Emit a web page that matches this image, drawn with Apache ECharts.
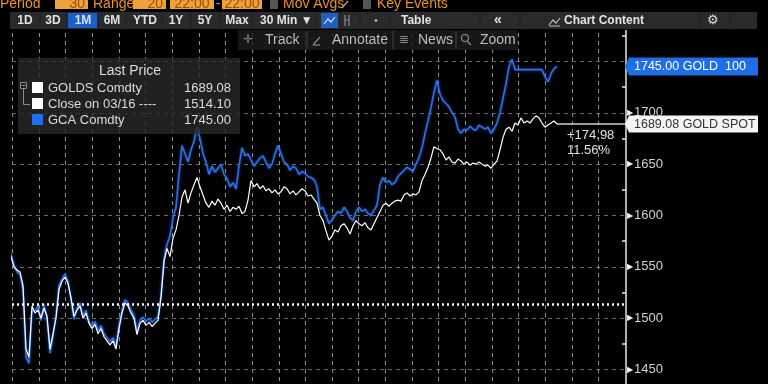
<!DOCTYPE html>
<html><head><meta charset="utf-8">
<script src="https://cdn.jsdelivr.net/npm/echarts@6/dist/echarts.min.js"></script>
<style>html,body{margin:0;padding:0;background:#000;}#c{width:768px;height:384px;}</style>
</head><body><div id="c"></div>
<script>
// GOLDS Comdty (spot, white) — 30-min bars
const goldSpot = [
1570,1560,1550,1547,1545,1532,1470,1462,1512,1505,1508,1500,1510,1502,1470,1485,1500,1528,1536,1540,1534,1520,1502,1508,1512,1500,1505,1495,1490,1494,1485,1490,1482,1478,1474,1478,1470,1490,1505,1515,1512,1505,1500,1484,1495,1498,1493,1496,1492,1495,1498,
1520,1555,1568,1560,1578,1586,1600,1618,1625,1612,1622,1630,1637,1628,1620,1612,1608,1614,1610,1616,1612,1606,1610,1604,1608,1606,1609,1602,1604,1615,1634,1628,1631,1626,1629,1624,1626,1622,1625,1621,1623,1628,1626,1621,1624,1620,1623,1626,1624,1619,1620,1616,1612,1600,
1595,1585,1576,1580,1586,1584,1590,1592,1588,1582,1590,1595,1592,1590,1593,1588,1586,1592,1598,1604,1610,1612,1609,1612,1614,1615,1614,1620,1622,1619,1621,1620,1623,1634,1640,1647,1656,1667,1665,1664,
1660,1654,1657,1652,1651,1655,1653,1650,1652,1649,1651,1650,1652,1650,1648,1649,1646,1650,1653,1664,1676,1684,1686,1682,1690,1688,1695,1690,1692,1690,1694,1697,1695,1690,1686,1688,1690,1692,1689.08
];
// GCA Comdty (front future, blue); null = no trading
const goldFut = [
1574,1562,1552,1545,1543,1528,1462,1456,1508,1507,1512,1498,1513,1500,1466,1482,1503,1532,1538,1543,1536,1518,1499,1510,1515,1502,1508,1497,1492,1497,1488,1493,1485,1481,1477,1481,1473,1493,1508,1518,1515,1508,1503,1487,1498,1501,1497,1500,1496,1499,1502,
1522,1558,1572,1580,1598,1608,1640,1668,1660,1652,1664,1672,1686,1675,1660,1652,1640,1648,1642,1646,1650,1640,1636,1628,1632,1626,1648,1666,1658,1660,1654,1648,1652,1656,1658,1652,1646,1650,1660,1668,1660,1652,1650,1644,1648,1646,1640,1643,1641,1638,1637,1635,1628,1606,
1608,1600,1592,1596,1600,1604,1602,1608,1604,1598,1595,1604,1608,1604,1606,1602,1600,1605,1610,1630,1637,1632,1634,1630,1632,1638,1641,1644,1647,1645,1643,1650,1656,1666,1680,1692,1705,1720,1732,1718,
1712,1709,1706,1700,1696,1684,1680,1684,1683,1687,1684,1683,1688,1686,1684,1686,1680,1684,1690,1700,1714,1728,1745,1752,1742,null,null,null,null,null,null,null,null,1742,1735,1730,1738,1743,1745
];
const closeLevel = 1514.10;
const closeDate = '03/16';
const lastSpot = 1689.08;
const lastFut = 1745.00;
const yTicks = {min:1400, max:1800, step:50};
const xTicks = {min:0, max:614, step:26.65, count:23};   // time-grid spacing (one 30-min slot = 3 units)
const slotW = 3, slotStart = -4;
const timeButtons = ['1D','3D','1M','6M','YTD','1Y','5Y','Max'];

const FONT = '"Liberation Sans", Arial, sans-serif';
const chart = echarts.init(document.getElementById('c'), null, {renderer:'canvas'});
const xOf = i => slotStart + slotW*i;
const gridLineVals = Array.from({length:xTicks.count}, (_,k)=>Math.round(xTicks.min + k*xTicks.step)+0.5);
const GRIDLINE = {color:'#6a6a6a', type:[4,4], width:1};
const VGRIDLINE = {color:'#8e8e8e', type:[4,4], width:1};

const option = {
  backgroundColor:'#000',
  animation:false,
  grid:{left:12, right:142, top:10, bottom:-37, outerBoundsMode:'none', containLabel:false},
  xAxis:{type:'value', min:xTicks.min, max:xTicks.max, show:false},
  yAxis:{type:'value', position:'right', min:yTicks.min, max:yTicks.max, interval:yTicks.step,
     axisLine:{show:true, onZero:false, lineStyle:{color:'#e6e6e6', width:1.5}},
     axisTick:{show:false, inside:true},
     minorTick:{show:true, splitNumber:2, length:4, lineStyle:{color:'#e6e6e6', width:1.5}},
     splitLine:{show:true, lineStyle:GRIDLINE},
     axisLabel:{margin:1, formatter:v=>(Math.abs(v-lastFut)<30 ? '' : '{t|▶}{v|'+v+'}'),
       rich:{t:{color:'#f2f2f2', fontSize:8, padding:[0,1,0,0]},
             v:{color:'#d2d2d2', fontSize:13, fontFamily:FONT}}}},
  series:[
    {type:'line', name:'GCA Comdty', silent:true, clip:false,
     data: goldFut.map((v,i)=>[xOf(i), v===null?'-':v]), showSymbol:false, connectNulls:true,
     lineStyle:{color:'#2e6fe3', width:1.6, shadowColor:'rgba(40,110,230,0.7)', shadowBlur:3}, z:3,
     markLine:{silent:true, symbol:'none', label:{show:false}, animation:false, z:1,
       lineStyle:VGRIDLINE, data: gridLineVals.map(v=>({xAxis:v}))}},
    {type:'line', name:'GOLDS Comdty', silent:true, clip:false,
     data: goldSpot.map((v,i)=>[xOf(i),v]), showSymbol:false,
     lineStyle:{color:'#ffffff', width:1.2}, z:4,
     markLine:{silent:true, symbol:'none', label:{show:false}, animation:false,
       data:[
         {yAxis:closeLevel, lineStyle:{color:'#ffffff', type:[2,3], width:2.5}},
         [{coord:[xOf(goldSpot.length-1),lastSpot], lineStyle:{color:'#d0d0d0', type:'solid', width:1.5}},
          {coord:[xTicks.max,lastSpot]}]
       ]}}
  ]
};
chart.setOption(option);

const P = (x,y)=>chart.convertToPixel({gridIndex:0},[x,y]);
const G = [];
const Z = 100;
function rect(x,y,w,h,fill,extra){G.push(Object.assign({type:'rect',shape:{x,y,width:w,height:h},style:{fill},z:Z,silent:true},extra||{}));}
function txt(x,y,text,o){o=o||{};G.push({type:'text',x,y,z:Z+1,silent:true,style:{text,fill:o.fill||'#e6e6e6',
  font:(o.weight||'normal')+' '+(o.size||13)+'px '+FONT,
  textAlign:o.align||'left',align:o.align||'left',
  textVerticalAlign:o.va||'middle',verticalAlign:o.va||'middle'}});}
function line(pts,stroke,w){G.push({type:'polyline',shape:{points:pts},style:{stroke,lineWidth:w||1,fill:null},z:Z+1,silent:true});}

// ---- toolbar ----
rect(0,0,768,30,'#000');
const ORG='#e8922a', BOX='#f0a23a', BOXT='#9a5000';
txt(0,11,'Period',{fill:ORG,size:14,va:'bottom'});
rect(55,-5,33,14,BOX); txt(85,11,'30',{fill:BOXT,size:14,va:'bottom',align:'right'});
txt(93,11,'Range',{fill:ORG,size:14,va:'bottom'});
rect(133,-5,33,14,BOX); txt(163,11,'20',{fill:BOXT,size:14,va:'bottom',align:'right'});
rect(170,-5,44,14,BOX); txt(192,11,'22:00',{fill:BOXT,size:14,va:'bottom',align:'center'});
txt(218,11,'-',{fill:ORG,size:14,va:'bottom',align:'center'});
rect(222,-5,40,14,BOX); txt(242,11,'22:00',{fill:BOXT,size:14,va:'bottom',align:'center'});
rect(270,0,8,9,'#555'); txt(283,11,'Mov Avgs',{fill:ORG,size:14,va:'bottom'});
line([[342,8],[348,1]],'#9a9a9a',1.5);
rect(363,0,8,9,'#555'); txt(377,11,'Key Events',{fill:ORG,size:14,va:'bottom'});

rect(10,12,747,17,'#2a2a2a');
const btnX=[25,53,83,112,145,176,205,237];
rect(68,13,29,15,'#1d5fc4');
timeButtons.forEach((b,i)=>txt(btnX[i],21,b,{size:12,weight:'bold',align:'center',fill:b==='1M'?'#cfe2ff':'#e2e2e2'}));
txt(260,21,'30 Min ▼',{size:12,weight:'bold',fill:'#e2e2e2'});
rect(321,13,17,15,'#1d5fc4');
line([[324,24],[328,19],[331,22],[335,17]],'#cfe2ff',1.2);
line([[345,15],[345,26]],'#8a8a8a',1.2); line([[349,15],[349,26]],'#8a8a8a',1.2); line([[345,20],[349,20]],'#8a8a8a',1);
txt(376,21,'•',{size:10,align:'center',fill:'#bbb'});
txt(401,21,'Table',{size:12,weight:'bold',fill:'#e2e2e2'});
txt(498,20,'«',{size:14,weight:'bold',align:'center',fill:'#e2e2e2'});
line([[549,25],[553,20],[556,23],[560,18]],'#bbbbbb',1.2); line([[549,26],[560,26]],'#bbbbbb',1);
txt(564,21,'Chart Content',{size:12,weight:'bold',fill:'#e2e2e2'});
txt(713,20,'⚙',{size:13,align:'center',fill:'#dcdcdc'});
[40,67,98,126,162,191,220,252,316,340,360,390,480,520,700,730].forEach(x=>line([[x,13],[x,28]],'#1c1c1c',1));

rect(238,30,280,20,'rgba(28,28,28,0.82)');
txt(248,40,'✛',{size:12,align:'center',fill:'#8a8a8a'});
txt(265,40,'Track',{size:14,fill:'#bdbdbd'});
line([[313,45],[320,37]],'#8a8a8a',1.2); line([[313,45],[320,45]],'#8a8a8a',1.2);
txt(332,40,'Annotate',{size:14,fill:'#bdbdbd'});
txt(404,40,'≣',{size:12,align:'center',fill:'#8a8a8a'});
txt(418,40,'News',{size:14,fill:'#bdbdbd'});
G.push({type:'circle',shape:{cx:465,cy:38,r:3.5},style:{stroke:'#8a8a8a',fill:null,lineWidth:1.2},z:Z+1,silent:true});
line([[467,41],[471,45]],'#8a8a8a',1.2);
txt(480,40,'Zoom',{size:14,fill:'#bdbdbd'});
[307,393,456].forEach(x=>line([[x,31],[x,49]],'#444',1));

// ---- legend box ----
rect(18,58,222,76,'rgba(40,40,40,0.8)');
txt(130,71,'Last Price',{size:14,align:'center',fill:'#dcdcdc'});
G.push({type:'rect',shape:{x:20.5,y:82.5,width:6,height:6},style:{stroke:'#8a8a8a',fill:null,lineWidth:1},z:Z+1,silent:true});
line([[21.5,85.5],[25.5,85.5]],'#8a8a8a',1);
line([[23.5,89],[23.5,104.5],[30,104.5]],'#8a8a8a',1);
rect(32,82,11,11,'#ffffff',{z:Z+1});
rect(32,98,11,11,'#ffffff',{z:Z+1});
rect(32,114,11,11,'#1f6fe8',{z:Z+1});
txt(48,88,'GOLDS Comdty',{size:13,fill:'#dcdcdc'});
txt(231,88,lastSpot.toFixed(2),{size:13,align:'right',fill:'#dcdcdc'});
txt(48,104,'Close on '+closeDate+' ----',{size:13,fill:'#dcdcdc'});
txt(231,104,closeLevel.toFixed(2),{size:13,align:'right',fill:'#dcdcdc'});
txt(48,120,'GCA Comdty',{size:13,fill:'#dcdcdc'});
txt(231,120,lastFut.toFixed(2),{size:13,align:'right',fill:'#dcdcdc'});

// ---- right-hand tags ----
const axisX = P(xTicks.max,lastSpot)[0];
function tag(v,text,bg,fg,h){
  const y = P(0,v)[1], x0 = axisX+3, w = 129;
  G.push({type:'polygon',shape:{points:[[x0-4,y],[x0,y-h/2],[x0+w,y-h/2],[x0+w,y+h/2],[x0,y+h/2]]},style:{fill:bg},z:Z,silent:true});
  txt(x0+5,y+0.5,text,{size:12.5,fill:fg});
}
tag(lastFut, lastFut.toFixed(2)+' GOLD  100', '#1e6ee6', '#ffffff', 18);
tag(lastSpot, lastSpot.toFixed(2)+' GOLD SPOT', '#f4f4f4', '#333333', 17);
const endPt = P(xOf(goldSpot.length-1),lastSpot);
const chg = lastSpot-closeLevel;
txt(endPt[0]+10,endPt[1]+11,'+'+chg.toFixed(2),{size:13,fill:'#e0e0e0'});
txt(endPt[0]+10,endPt[1]+26,(chg/closeLevel*100).toFixed(2)+'%',{size:13,fill:'#e0e0e0'});

chart.setOption({graphic:{elements:G}});
</script></body></html>
